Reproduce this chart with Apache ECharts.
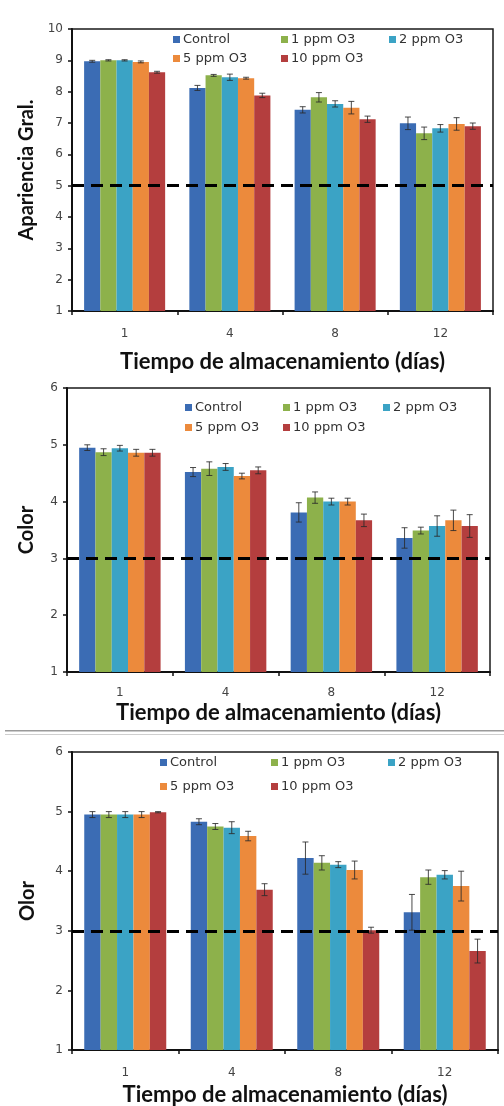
<!DOCTYPE html>
<html><head><meta charset="utf-8">
<script src="https://cdn.jsdelivr.net/npm/echarts@6/dist/echarts.min.js"></script>
<style>html,body{margin:0;padding:0;background:#fff}#c{width:504px;height:1106px}</style>
</head><body><div id="c"></div>
<script>
const days = ['1', '4', '8', '12'];
const treatments = ['Control', '1 ppm O3', '2 ppm O3', '5 ppm O3', '10 ppm O3'];
const colors = ['#3b6cb4', '#8db14b', '#3ba3c5', '#ec8a3c', '#b43e3e'];

// Apariencia Gral. (rows = treatments, cols = days)
const aparienciaMean = [
  [8.97, 8.12, 7.42, 6.99],
  [9.00, 8.52, 7.82, 6.67],
  [9.00, 8.46, 7.61, 6.83],
  [8.95, 8.43, 7.49, 6.97],
  [8.62, 7.88, 7.12, 6.90]
];
const aparienciaErr = [
  [0.03, 0.08, 0.10, 0.20],
  [0.02, 0.03, 0.15, 0.20],
  [0.02, 0.10, 0.10, 0.12],
  [0.03, 0.03, 0.20, 0.20],
  [0.03, 0.07, 0.10, 0.10]
];
// Color
const colorMean = [
  [4.95, 4.52, 3.81, 3.36],
  [4.87, 4.58, 4.07, 3.49],
  [4.94, 4.61, 4.00, 3.57],
  [4.86, 4.45, 4.00, 3.67],
  [4.86, 4.55, 3.67, 3.57]
];
const colorErr = [
  [0.05, 0.08, 0.17, 0.18],
  [0.06, 0.12, 0.10, 0.06],
  [0.05, 0.06, 0.06, 0.18],
  [0.06, 0.05, 0.06, 0.18],
  [0.06, 0.06, 0.11, 0.20]
];
// Olor
const olorMean = [
  [4.95, 4.83, 4.22, 3.31],
  [4.95, 4.75, 4.14, 3.90],
  [4.95, 4.73, 4.11, 3.94],
  [4.95, 4.59, 4.02, 3.75],
  [4.99, 3.69, 3.01, 2.66]
];
const olorErr = [
  [0.05, 0.05, 0.27, 0.30],
  [0.05, 0.05, 0.12, 0.12],
  [0.05, 0.10, 0.05, 0.07],
  [0.05, 0.08, 0.15, 0.25],
  [0.01, 0.10, 0.05, 0.20]
];
const yNames = ['Apariencia Gral.', 'Color', 'Olor'];
const yMax = [10, 6, 6];
const thresholds = [5, 3, 3];
const xName = 'Tiempo de almacenamiento (días)';

const panels = [
  {mean: aparienciaMean, err: aparienciaErr, grid: {left: 72, top: 29, width: 421, height: 282}, nameGapY: 34, nameGapX: 40, labelMargin: 17,
   legend: [[173, 40], [281, 40], [389, 40], [173, 59], [281, 59]]},
  {mean: colorMean, err: colorErr, grid: {left: 67, top: 388, width: 423, height: 284}, nameGapY: 30, nameGapX: 30, labelMargin: 15,
   legend: [[185, 408], [283, 408], [383, 408], [185, 428], [283, 428]]},
  {mean: olorMean, err: olorErr, grid: {left: 72, top: 752, width: 426, height: 298}, nameGapY: 34, nameGapX: 34, labelMargin: 17,
   legend: [[160, 763], [271, 763], [388, 763], [160, 787], [271, 787]]}
];

const GAP = 0.23;
function errRender(k) {
  return function (params, api) {
    const ci = api.value(0), v = api.value(1), e = api.value(2);
    const band = api.size([1, 0])[0];
    const groupW = band * (1 - GAP);
    const bw = groupW / 5;
    const c = api.coord([ci, v]);
    const x = c[0] - groupW / 2 + bw * (k + 0.5);
    const yt = api.coord([ci, v + e])[1], yb = api.coord([ci, v - e])[1];
    const cap = 3;
    const style = {stroke: '#2a2a2a', lineWidth: 1, opacity: 0.85};
    return {type: 'group', children: [
      {type: 'line', shape: {x1: x, y1: yt, x2: x, y2: yb}, style},
      {type: 'line', shape: {x1: x - cap, y1: yt, x2: x + cap, y2: yt}, style},
      {type: 'line', shape: {x1: x - cap, y1: yb, x2: x + cap, y2: yb}, style}
    ]};
  };
}

const grids = [], xAxes = [], yAxes = [], series = [], legends = [];
panels.forEach((p, pi) => {
  grids.push(Object.assign({show: true, borderColor: '#1a1a1a', borderWidth: 1.5, backgroundColor: '#fff',
    containLabel: false, outerBoundsMode: 'none'}, p.grid));
  xAxes.push({
    type: 'category', gridIndex: pi, data: days,
    axisLine: {lineStyle: {color: '#111', width: 2}},
    axisTick: {show: true, length: 4, lineStyle: {color: '#111', width: 1.5}},
    axisLabel: {color: '#444', fontFamily: 'DejaVu Sans', fontSize: 12, margin: p.labelMargin},
    name: xName, nameLocation: 'middle', nameGap: p.nameGapX,
    nameTextStyle: {color: '#111', fontFamily: 'Lato', fontWeight: 'bold', fontSize: 22}
  });
  yAxes.push({
    type: 'value', gridIndex: pi, min: 1, max: yMax[pi], interval: 1,
    splitLine: {show: false},
    axisLine: {show: true, lineStyle: {color: '#111', width: 2}},
    axisTick: {show: true, length: 4, lineStyle: {color: '#111', width: 1.5}},
    axisLabel: {color: '#444', fontFamily: 'DejaVu Sans', fontSize: 12, margin: 9},
    name: yNames[pi], nameLocation: 'middle', nameGap: p.nameGapY, nameRotate: 90,
    nameTextStyle: {color: '#111', fontFamily: 'Lato', fontWeight: 'bold', fontSize: 20}
  });
  treatments.forEach((t, k) => {
    const s = {
      type: 'bar', name: t, xAxisIndex: pi, yAxisIndex: pi,
      data: p.mean[k], barGap: '0%', barCategoryGap: (GAP * 100) + '%',
      itemStyle: {color: colors[k]}, z: 2
    };
    if (k === 0) {
      s.markLine = {
        silent: true, symbol: ['none', 'none'], z: 10,
        label: {show: false},
        lineStyle: {color: '#000', width: 3, type: [12, 7]},
        data: [{yAxis: thresholds[pi]}]
      };
    }
    series.push(s);
    series.push({
      type: 'custom', name: t + ' err', xAxisIndex: pi, yAxisIndex: pi,
      renderItem: errRender(k), z: 4, silent: true,
      encode: {x: 0, y: 1},
      data: days.map((d, i) => [i, p.mean[k][i], p.err[k][i]])
    });
    legends.push({
      data: [t], left: p.legend[k][0], top: p.legend[k][1] - 7, padding: 0,
      icon: 'rect', itemWidth: 7, itemHeight: 7, itemGap: 0,
      textStyle: {color: '#333', fontFamily: 'DejaVu Sans', fontSize: 13, padding: [0, 0, 0, -2]},
      selectedMode: false
    });
  });
});

const chart = echarts.init(document.getElementById('c'));
chart.setOption({
  animation: false,
  backgroundColor: '#fff',
  grid: grids, xAxis: xAxes, yAxis: yAxes, series: series, legend: legends,
  graphic: [
    {type: 'rect', shape: {x: 5, y: 730, width: 499, height: 1.5}, style: {fill: '#9a9a9a'}, silent: true},
    {type: 'rect', shape: {x: 5, y: 734, width: 499, height: 1}, style: {fill: '#cfcfcf'}, silent: true}
  ]
});
</script></body></html>
